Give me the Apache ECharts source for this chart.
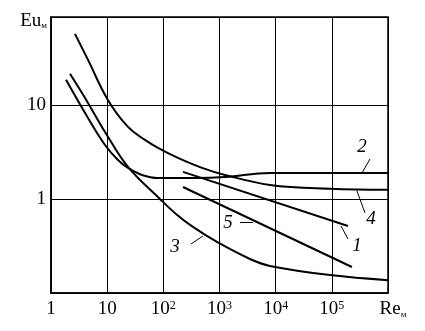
<!DOCTYPE html>
<html>
<head>
<meta charset="utf-8">
<script src="https://cdn.jsdelivr.net/npm/echarts@6/dist/echarts.min.js"></script>
<style>
  html, body { margin: 0; padding: 0; background: #fff; }
  #main { width: 425px; height: 331px; }
</style>
</head>
<body>
<div id="main"></div>
<script>
// curves: [Re, Eu]
var curve1 = [[224, 1.94], [194000, 0.516]];
var curve2 = [[1.85, 18.5], [4.56, 7.27], [9.15, 3.75], [15.6, 2.60],
              [23.5, 2.14], [41.7, 1.80], [80.3, 1.67], [366, 1.67], [1253, 1.71],
              [7925, 1.89], [100000, 1.89], [1000000, 1.89]];
var curve3 = [[2.18, 21.4], [4.56, 10.5], [9.15, 5.16], [23.5, 2.19], [87, 1.0],
              [168, 0.692], [337, 0.504], [902, 0.349], [3490, 0.230], [7925, 0.194],
              [92700, 0.155], [1000000, 0.137]];
var curve4 = [[2.67, 56.9], [4.56, 30.1], [10.3, 11.3], [23.5, 5.83],
              [47.1, 4.24], [80.3, 3.49], [182, 2.73], [488, 2.14], [1253, 1.80],
              [7925, 1.41], [92700, 1.28], [1000000, 1.25]];
var curve5 = [[224, 1.34], [228000, 0.189]];

// number tags with their leader lines
var tags = [
  { name: '1', at: [280000, 0.316], from: [146000, 0.516], to: [194000, 0.375] },
  { name: '2', at: [344000, 3.57],  from: [478000, 2.66],  to: [344000, 1.89] },
  { name: '3', at: [161, 0.309],    from: [311, 0.332],    to: [508, 0.404] },
  { name: '4', at: [498000, 0.612], from: [280000, 1.22],  to: [389000, 0.710] },
  { name: '5', at: [1416, 0.555],   from: [2317, 0.569],   to: [3945, 0.569] }
];

var serif = 'Liberation Serif';

function tagFor(name) {
  for (var i = 0; i < tags.length; i++) if (tags[i].name === name) return tags[i];
}

function curve(name, data, smooth) {
  var t = tagFor(name);
  return {
    type: 'line',
    data: data,
    smooth: smooth,
    symbol: 'none',
    lineStyle: { color: '#000', width: 2 },
    z: 3,
    markLine: {
      silent: true,
      symbol: ['none', 'none'],
      lineStyle: { color: '#000', width: 1, type: 'solid' },
      label: { show: false },
      data: [[{ coord: t.from }, { coord: t.to }]]
    },
    markPoint: {
      silent: true,
      symbol: 'circle',
      symbolSize: 1,
      itemStyle: { color: 'rgba(0,0,0,0)' },
      label: {
        show: true, position: 'inside', formatter: name,
        color: '#000', fontFamily: serif, fontStyle: 'italic', fontSize: 19
      },
      data: [{ coord: t.at }]
    }
  };
}

var chart = echarts.init(document.getElementById('main'));
chart.setOption({
  animation: false,
  grid: { left: 51, right: 37, top: 17, bottom: 38, show: true,
          borderColor: '#000', borderWidth: 1.5, backgroundColor: 'transparent' },
  xAxis: {
    type: 'log', logBase: 10, min: 1, max: 1000000,
    axisLine: { lineStyle: { color: '#000', width: 1.5 } },
    axisTick: { show: false },
    splitLine: { show: true, lineStyle: { color: '#000', width: 1 } },
    axisLabel: {
      color: '#000', fontFamily: serif, fontSize: 19, margin: 7,
      formatter: function (v) {
        var k = Math.round(Math.log(v) / Math.LN10);
        if (k === 0) return '1';
        if (k === 1) return '10';
        if (k === 6) return '{n|Re}{s|м}';
        return '10{sup|' + k + '}';
      },
      rich: {
        sup: { fontFamily: serif, fontSize: 12, verticalAlign: 'top', color: '#000' },
        n: { fontFamily: serif, fontSize: 19, color: '#000', padding: [0, 0, 0, 10] },
        s: { fontFamily: serif, fontSize: 9, color: '#000', verticalAlign: 'bottom' }
      }
    }
  },
  yAxis: {
    type: 'log', logBase: 10, min: 0.1, max: 86,
    name: 'Eu{s|м}',
    nameLocation: 'end',
    nameGap: -4,
    nameTextStyle: {
      color: '#000', fontFamily: serif, fontSize: 19, align: 'right',
      verticalAlign: 'middle', padding: [0, 4, 0, 0],
      rich: { s: { fontFamily: serif, fontSize: 9, color: '#000', verticalAlign: 'bottom' } }
    },
    axisLine: { show: true, lineStyle: { color: '#000', width: 1.5 } },
    axisTick: { show: false },
    splitLine: { show: true, lineStyle: { color: '#000', width: 1 } },
    axisLabel: {
      color: '#000', fontFamily: serif, fontSize: 19, margin: 5,
      formatter: function (v) {
        if (Math.abs(v - 1) < 1e-6) return '1';
        if (Math.abs(v - 10) < 1e-5) return '10';
        return '';
      }
    }
  },
  series: [
    curve('1', curve1, false),
    curve('2', curve2, 0.4),
    curve('3', curve3, 0.4),
    curve('4', curve4, 0.4),
    curve('5', curve5, false)
  ]
});
</script>
</body>
</html>
